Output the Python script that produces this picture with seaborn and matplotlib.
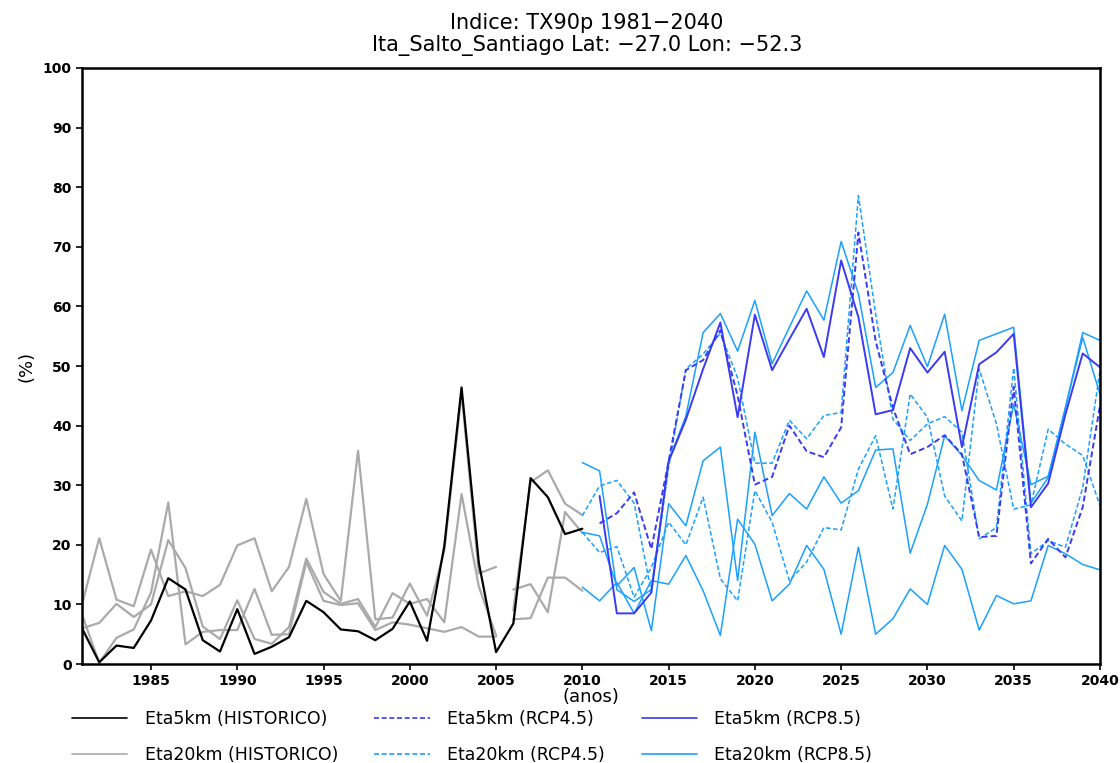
import numpy as np
import pandas as pd
import matplotlib
matplotlib.use("Agg")
import matplotlib.pyplot as plt
from matplotlib.lines import Line2D
import seaborn as sns

# ---- data ----
years_hist = list(range(1981, 2011))
years_h20a = list(range(1981, 2006))
years_h20b = list(range(2006, 2011))
years_eta5_fut = list(range(2011, 2041))
years_eta20_fut = list(range(2010, 2041))

eta5_hist = [6.0, 0.3, 3.1, 2.7, 7.3, 14.4, 12.5, 4.0, 2.1, 9.2, 1.7, 2.9, 4.5, 10.6,
             8.7, 5.8, 5.5, 4.0, 5.9, 10.5, 3.9, 19.8, 46.4, 17.0, 2.0, 6.8, 31.2,
             28.0, 21.8, 22.7]

eta20_hist_1 = [10.0, 21.1, 10.8, 9.7, 19.2, 11.4, 12.2, 11.4, 13.3, 19.9, 21.1, 12.2,
                16.3, 27.7, 15.1, 10.6, 35.8, 7.5, 7.8, 13.5, 8.1, 19.0, 45.5, 15.2, 16.3]
eta20_hist_2 = [6.0, 6.9, 10.1, 7.9, 10.0, 20.8, 16.1, 6.3, 4.2, 10.7, 4.2, 3.4, 6.2,
                17.7, 12.1, 10.1, 10.9, 6.2, 11.9, 10.1, 10.9, 7.0, 28.5, 13.0, 4.8]
eta20_hist_3 = [8.3, 0.2, 4.4, 5.8, 12.0, 27.1, 3.3, 5.4, 5.7, 5.7, 12.6, 4.9, 5.0,
                17.1, 10.6, 9.9, 10.2, 5.7, 7.0, 6.6, 6.0, 5.4, 6.2, 4.6, 4.6]
eta20_hist_4 = [9.0, 30.5, 32.5, 26.9, 25.0]
eta20_hist_5 = [12.5, 13.4, 8.7, 25.5, 22.0]
eta20_hist_6 = [7.5, 7.7, 14.5, 14.5, 12.3]

eta5_rcp45 = [23.6, 25.3, 28.8, 19.3, 34.0, 49.3, 51.0, 56.0, 45.0, 30.1, 31.4, 40.0,
              35.7, 34.7, 39.7, 72.4, 54.2, 43.0, 35.2, 36.4, 38.4, 35.2, 21.3, 21.5,
              46.5, 16.9, 21.0, 17.9, 26.3, 43.3]
eta5_rcp85 = [28.2, 8.5, 8.5, 12.0, 34.0, 41.0, 49.5, 57.3, 41.4, 58.6, 49.3, 54.5,
              59.6, 51.5, 67.7, 58.2, 41.9, 42.6, 53.0, 48.9, 52.4, 36.4, 50.3, 52.3,
              55.4, 26.3, 30.3, 41.9, 52.1, 49.8]

eta20_rcp45_1 = [24.9, 29.9, 30.8, 27.0, 12.0, 33.0, 49.5, 52.0, 55.5, 48.0, 33.7,
                 33.7, 40.9, 37.8, 41.7, 42.2, 78.6, 58.7, 41.1, 37.5, 40.3, 41.5,
                 38.9, 21.0, 22.9, 49.7, 18.5, 20.7, 19.6, 29.6, 49.2]
eta20_rcp45_2 = [22.1, 18.7, 19.7, 11.2, 16.2, 23.8, 20.0, 28.0, 14.3, 10.6, 29.1,
                 23.8, 14.0, 17.1, 22.9, 22.5, 32.7, 38.3, 26.0, 45.3, 41.4, 28.2,
                 24.0, 49.5, 40.3, 26.0, 26.7, 39.4, 36.9, 35.0, 26.6]
eta20_rcp85_1 = [33.8, 32.4, 12.5, 10.5, 12.5, 34.0, 41.6, 55.6, 58.8, 52.5, 61.0,
                 50.4, 56.5, 62.6, 57.7, 70.9, 62.1, 46.4, 48.9, 56.8, 49.9, 58.7,
                 42.5, 54.3, 55.4, 56.5, 27.0, 31.3, 43.0, 55.6, 54.3]
eta20_rcp85_2 = [22.1, 21.5, 13.1, 16.2, 5.6, 26.9, 23.2, 34.1, 36.4, 14.0, 38.9,
                 24.9, 28.6, 26.0, 31.4, 27.0, 29.1, 35.9, 36.1, 18.6, 26.8, 38.3,
                 35.0, 30.8, 29.2, 43.6, 30.1, 31.5, 43.0, 54.8, 45.3]
eta20_rcp85_3 = [12.9, 10.6, 13.7, 8.5, 14.0, 13.4, 18.2, 12.3, 4.8, 24.3, 20.1,
                 10.6, 13.4, 19.9, 15.9, 5.0, 19.6, 5.0, 7.6, 12.6, 10.0, 19.9, 15.9,
                 5.7, 11.5, 10.1, 10.6, 19.9, 18.5, 16.7, 15.8]

xticks = list(range(1985, 2041, 5))
yticks = list(range(0, 101, 10))

# ---- style ----
c_black = "#000000"
c_gray = "#aaaaaa"
c_blue = "#3a3af2"
c_light = "#1aa0ff"
dash = (0, (3, 1.6))

sns.set_theme(style="white")
plt.rcParams["font.family"] = ["DejaVu Sans"]
plt.rcParams["text.color"] = "black"
plt.rcParams["axes.labelcolor"] = "black"

fig = plt.figure(figsize=(11.2, 7.63), dpi=100)
ax = fig.add_axes([0.0732, 0.1297, 0.9089, 0.7812])


def draw(xs, ys, color, lw, ls="-"):
    sns.lineplot(x=xs, y=ys, ax=ax, color=color, linewidth=lw, linestyle=ls,
                 estimator=None, sort=False)


for s in [eta20_hist_1, eta20_hist_2, eta20_hist_3]:
    draw(years_h20a, s, c_gray, 1.6)
for s in [eta20_hist_4, eta20_hist_5, eta20_hist_6]:
    draw(years_h20b, s, c_gray, 1.6)
draw(years_hist, eta5_hist, c_black, 1.6)

for s in [eta20_rcp85_1, eta20_rcp85_2, eta20_rcp85_3]:
    draw(years_eta20_fut, s, c_light, 1.1)
for s in [eta20_rcp45_1, eta20_rcp45_2]:
    draw(years_eta20_fut, s, c_light, 1.1, dash)
draw(years_eta5_fut, eta5_rcp85, c_blue, 1.4)
draw(years_eta5_fut, eta5_rcp45, c_blue, 1.4, dash)

ax.set_xlim(1981, 2040)
ax.set_ylim(0, 100)
ax.set_xticks(xticks)
ax.set_yticks(yticks)
ax.tick_params(axis="both", direction="out", length=4, width=1.2, labelsize=10,
               bottom=True, left=True, colors="black")
for lab in ax.get_xticklabels() + ax.get_yticklabels():
    lab.set_fontweight("bold")
for sp in ax.spines.values():
    sp.set_color("black")
    sp.set_linewidth(1.8)

ax.set_xlabel("(anos)", fontsize=13, labelpad=0)
ax.set_ylabel("(%)", fontsize=13, labelpad=5)

fig.text(0.524, 0.970, "Indice: TX90p 1981\u22122040", ha="center", va="center",
         fontsize=15)
fig.text(0.524, 0.940, "Ita_Salto_Santiago Lat: \u221227.0 Lon: \u221252.3",
         ha="center", va="center", fontsize=15)

handles = [
    Line2D([], [], color=c_black, lw=1.2, label="Eta5km (HISTORICO)"),
    Line2D([], [], color=c_gray, lw=1.2, label="Eta20km (HISTORICO)"),
    Line2D([], [], color=c_blue, lw=1.2, ls=dash, label="Eta5km (RCP4.5)"),
    Line2D([], [], color=c_light, lw=1.2, ls=dash, label="Eta20km (RCP4.5)"),
    Line2D([], [], color=c_blue, lw=1.2, label="Eta5km (RCP8.5)"),
    Line2D([], [], color=c_light, lw=1.2, label="Eta20km (RCP8.5)"),
]
fig.legend(handles=handles, ncol=3, loc="lower left", bbox_to_anchor=(0.05, -0.022),
           frameon=False, fontsize=12.5, handlelength=3.2, columnspacing=2.1,
           labelspacing=1.05, handletextpad=1.0)

fig.savefig("out.png", dpi=100, facecolor="white")
